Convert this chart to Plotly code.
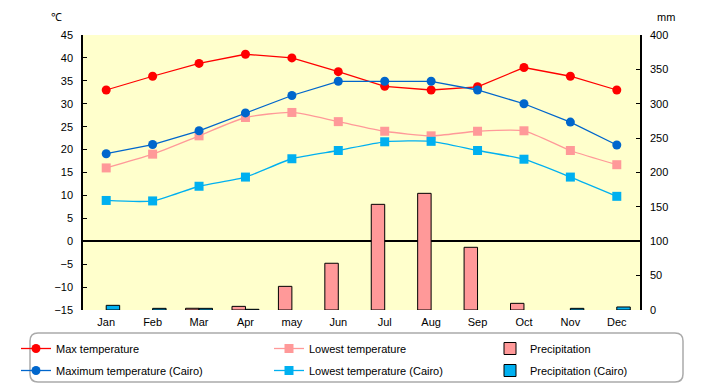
import plotly.graph_objects as go

months = ["Jan", "Feb", "Mar", "Apr", "may", "Jun", "Jul", "Aug", "Sep", "Oct", "Nov", "Dec"]
max_temp = [33, 36, 38.8, 40.8, 40, 37, 33.8, 33, 33.7, 37.9, 36, 33]
low_temp = [16, 19, 23, 27, 28.1, 26.1, 24, 23, 24, 24.1, 19.8, 16.7]
precip = [0, 0, 2.5, 5.3, 34.4, 68, 153.7, 169.7, 91.2, 9.7, 0, 0]
max_cairo = [19.1, 21.1, 24.1, 28, 31.8, 34.9, 34.9, 34.9, 33, 30, 26, 21]
low_cairo = [8.9, 8.8, 12, 14, 18, 19.8, 21.7, 21.8, 19.8, 17.9, 14, 9.8]
precip_cairo = [6.8, 2.4, 2.4, 1, 0, 0, 0, 0, 0, 0, 2.4, 4.4]

left_ticks = list(range(-15, 50, 5))
right_ticks = list(range(0, 450, 50))

FONT = "Liberation Sans"


def hide_zero(vals):
    return [v if v > 0 else None for v in vals]


fig = go.Figure()

fig.add_trace(go.Scatter(x=months, y=max_temp, name="Max temperature", mode="lines+markers",
                         line=dict(color="#FF0000", width=1.3), marker=dict(symbol="circle", size=9, color="#FF0000"),
                         legend="legend", legendgroup="a"))
fig.add_trace(go.Scatter(x=months, y=low_temp, name="Lowest temperature", mode="lines+markers",
                         line=dict(color="#FF9999", width=1.3, shape="spline", smoothing=0.6),
                         marker=dict(symbol="square", size=9, color="#FF9999"), legend="legend2", legendgroup="b"))
fig.add_trace(go.Bar(x=months, y=hide_zero(precip), name="Precipitation", yaxis="y2",
                     marker=dict(color="#FF9999", line=dict(color="black", width=1)), legend="legend3",
                     legendgroup="c"))
fig.add_trace(go.Scatter(x=months, y=max_cairo, name="Maximum temperature (Cairo)", mode="lines+markers",
                         line=dict(color="#0066CC", width=1.3), marker=dict(symbol="circle", size=9, color="#0066CC"),
                         legend="legend", legendgroup="d"))
fig.add_trace(go.Scatter(x=months, y=low_cairo, name="Lowest temperature (Cairo)", mode="lines+markers",
                         line=dict(color="#00B0F0", width=1.3, shape="spline", smoothing=0.6),
                         marker=dict(symbol="square", size=9, color="#00B0F0"), legend="legend2", legendgroup="e"))
fig.add_trace(go.Bar(x=months, y=hide_zero(precip_cairo), name="Precipitation (Cairo)", yaxis="y2",
                     marker=dict(color="#00B0F0", line=dict(color="black", width=1)), legend="legend3",
                     legendgroup="f"))

OFF = 8  # page body margin (top/left)
W, H = 720 - OFF, 385 - OFF
# plot area in page pixels
PL, PR, PT, PB = 83, 640, 35, 310
L, T = PL - OFF, PT - OFF
R, B = W - (PR - OFF), H - (PB - OFF)
pw, ph = PR - PL, PB - PT


def px(xp):
    return (xp - PL) / pw


def py(yp):
    return (PB - yp) / ph


# rounded legend box
x0, x1, y0, y1 = px(30), px(683), py(382), py(333)
rx, ry = 8 / pw, 8 / ph
path = (f"M {x0+rx},{y1} L {x1-rx},{y1} Q {x1},{y1} {x1},{y1-ry} L {x1},{y0+ry} Q {x1},{y0} {x1-rx},{y0} "
        f"L {x0+rx},{y0} Q {x0},{y0} {x0},{y0+ry} L {x0},{y1-ry} Q {x0},{y1} {x0+rx},{y1} Z")

legend_common = dict(orientation="v", bgcolor="rgba(0,0,0,0)", font=dict(family=FONT, size=11, color="black"),
                     xanchor="left", yanchor="top", tracegroupgap=3, itemwidth=30)

fig.update_layout(
    width=W, height=H,
    margin=dict(l=L, r=R, t=T, b=B, autoexpand=False),
    paper_bgcolor="white", plot_bgcolor="#FFFFCC",
    font=dict(family=FONT, size=11, color="black"),
    barmode="group", bargap=0.42, bargroupgap=0,
    showlegend=True,
    legend=dict(x=px(16), y=py(334), **legend_common),
    legend2=dict(x=px(269), y=py(334), **legend_common),
    legend3=dict(x=px(490), y=py(334), **legend_common),
    xaxis=dict(type="category", range=[-0.5, 11.5], showline=False, ticks="", showgrid=False,
               ticklabelstandoff=4, tickfont=dict(family=FONT, size=11)),
    yaxis=dict(range=[-15, 45], tickvals=left_ticks, showgrid=False, showline=True, linecolor="black",
               linewidth=1.5, ticks="inside", ticklen=4, tickcolor="black", ticklabelstandoff=6,
               zeroline=True, zerolinecolor="black", zerolinewidth=1.5, tickfont=dict(family=FONT, size=11)),
    yaxis2=dict(range=[0, 400], tickvals=right_ticks, overlaying="y", side="right", showgrid=False,
                showline=True, linecolor="black", linewidth=1.5, ticks="inside", ticklen=4, tickcolor="black",
                ticklabelstandoff=6, zeroline=False, tickfont=dict(family=FONT, size=11)),
    shapes=[dict(type="path", path=path, xref="paper", yref="paper", line=dict(color="#AAAAAA", width=1.5),
                 fillcolor="rgba(0,0,0,0)", layer="above")],
    annotations=[
        dict(text="℃", x=px(56), y=py(17), xref="paper", yref="paper", showarrow=False,
             xanchor="center", yanchor="middle", font=dict(family=FONT, size=11)),
        dict(text="mm", x=px(666), y=py(17), xref="paper", yref="paper", showarrow=False,
             xanchor="center", yanchor="middle", font=dict(family=FONT, size=11)),
    ],
)

fig.write_html("out.html")
